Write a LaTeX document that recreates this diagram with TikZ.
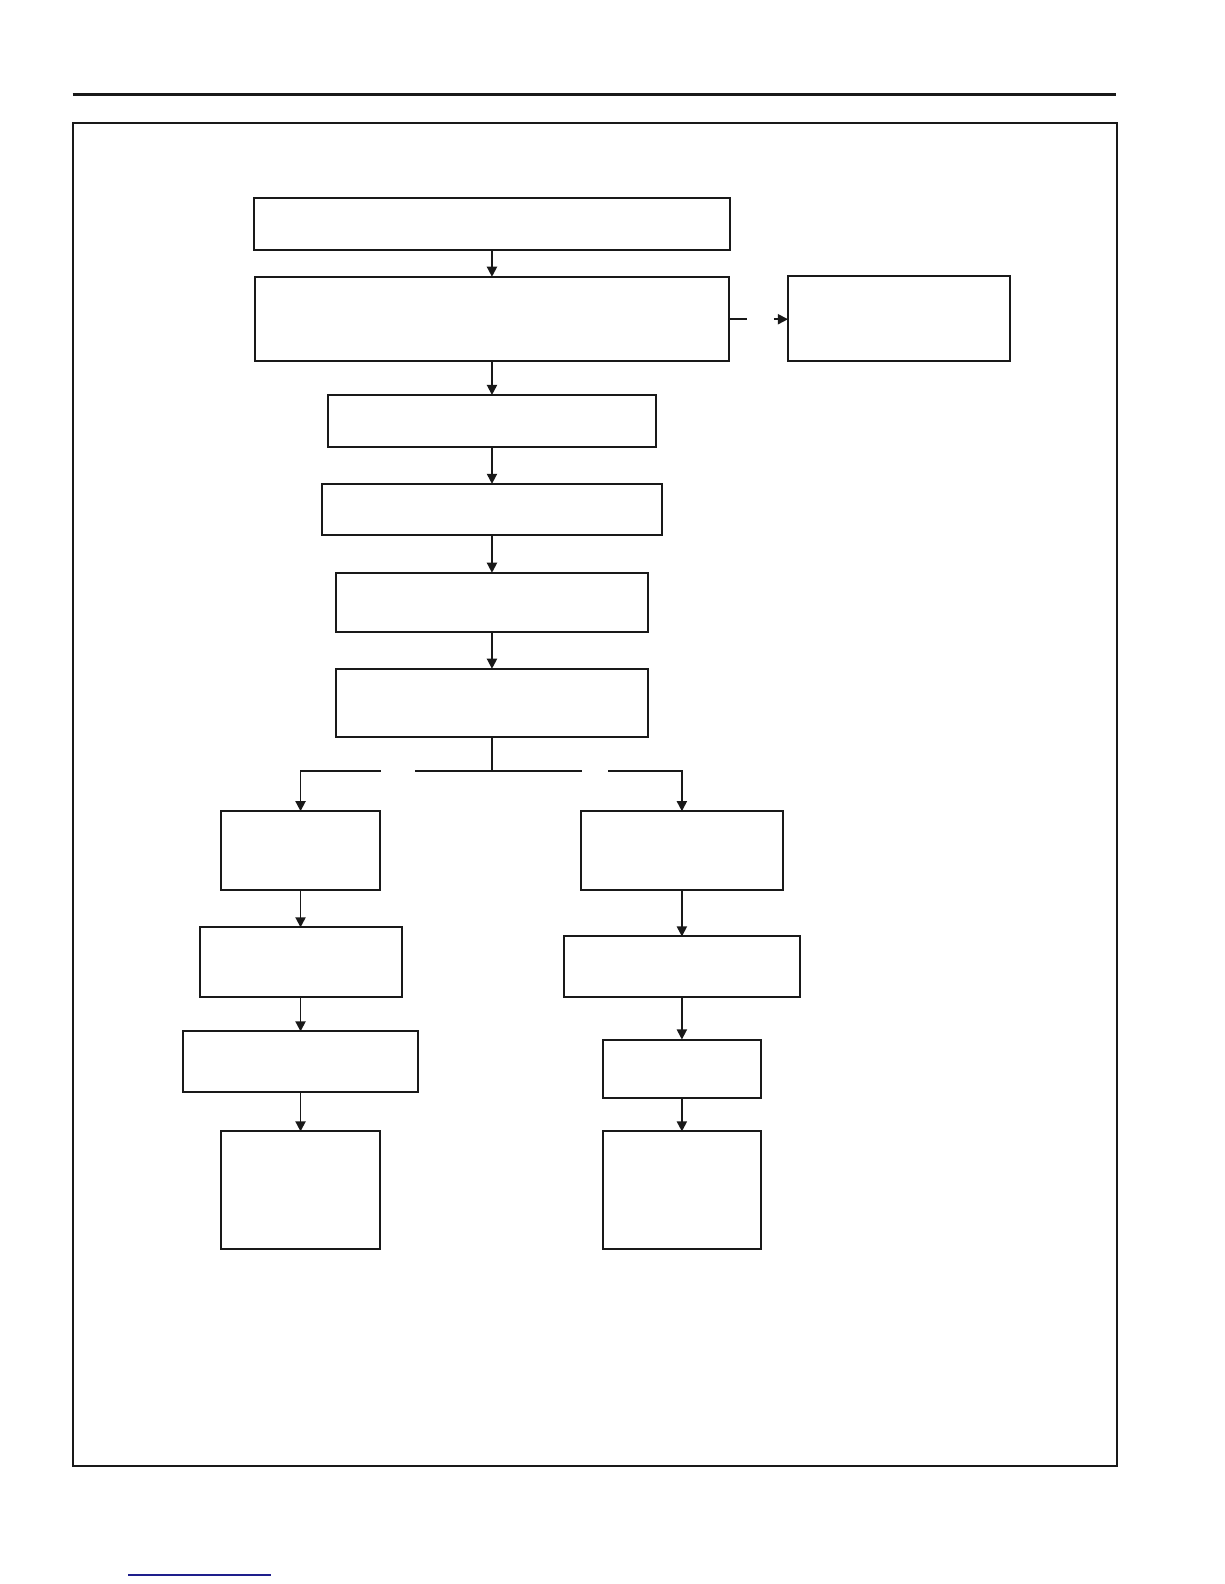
\documentclass[tikz,border=0pt]{standalone}
\usetikzlibrary{positioning, arrows.meta}
\definecolor{linkblue}{RGB}{30,30,140}
\newcommand{\pxunit}{0.5pt}

\begin{document}
\begin{tikzpicture}
    [
      x = \pxunit, y = -\pxunit,
      BOX/.style={rectangle, draw=black!90, fill=white, line width = 1pt, inner sep = 0pt, outer sep = 0pt},
      ARROW/.style={-{Triangle[width = 5pt, length = 5pt]}, line width = 0.9pt, black!90},
      LINE/.style={-, line width = 0.9pt, black!90},
    ]

    \useasboundingbox (0,0) rectangle (1212,1568);

    % page rule, frame and link line
    \draw[line width = 1.5pt, black!90] (72,94) -- (1105,94);
    \draw[line width = 1pt, black!90] (72,122) rectangle (1106,1451);
    \draw[line width = 0.7pt, linkblue] (127,1559) -- (268,1559);

    % main column
    \node[BOX, minimum width = 471*\pxunit, minimum height = 51*\pxunit] (check) at (487,221.5) {};
    \node[BOX, minimum width = 470*\pxunit, minimum height = 83*\pxunit] (inspect) [below = 27*\pxunit of check] {};
    \node[BOX, minimum width = 220*\pxunit, minimum height = 84*\pxunit] (replace) [right = 58*\pxunit of inspect] {};
    \node[BOX, minimum width = 324*\pxunit, minimum height = 51*\pxunit] (measure) [below = 34*\pxunit of inspect] {};
    \node[BOX, minimum width = 336*\pxunit, minimum height = 51*\pxunit] (connect) [below = 37*\pxunit of measure] {};
    \node[BOX, minimum width = 308*\pxunit, minimum height = 59*\pxunit] (operate) [below = 37*\pxunit of connect] {};
    \node[BOX, minimum width = 308*\pxunit, minimum height = 68*\pxunit] (result) [below = 36*\pxunit of operate] {};

    % left branch
    \node[BOX, minimum width = 157*\pxunit, minimum height = 78*\pxunit] (leftA) at (297.5,842) {};
    \node[BOX, minimum width = 200*\pxunit, minimum height = 69*\pxunit] (leftB) [below = 37*\pxunit of leftA] {};
    \node[BOX, minimum width = 232*\pxunit, minimum height = 60*\pxunit] (leftC) [below = 34*\pxunit of leftB] {};
    \node[BOX, minimum width = 157*\pxunit, minimum height = 116*\pxunit] (leftD) [below = 39*\pxunit of leftC] {};

    % right branch
    \node[BOX, minimum width = 200*\pxunit, minimum height = 78*\pxunit] (rightA) at (675,842) {};
    \node[BOX, minimum width = 234*\pxunit, minimum height = 60*\pxunit] (rightB) [below = 46*\pxunit of rightA] {};
    \node[BOX, minimum width = 157*\pxunit, minimum height = 58*\pxunit] (rightC) [below = 42*\pxunit of rightB] {};
    \node[BOX, minimum width = 157*\pxunit, minimum height = 116*\pxunit] (rightD) [below = 33*\pxunit of rightC] {};

    % free ends of the broken connectors
    \coordinate (sideA) at (739,316);
    \coordinate (sideB) at (766,316);
    \coordinate (split) at (487,763);
    \coordinate (splitLa) at (411,763);
    \coordinate (splitLb) at (377,763);
    \coordinate (splitRa) at (576,763);
    \coordinate (splitRb) at (602,763);

    \draw[ARROW] (check) to (inspect);
    \draw[LINE] (inspect.east |- sideA) to (sideA);
    \draw[ARROW] (sideB) to (replace.west |- sideB);
    \draw[ARROW] (inspect) to (measure);
    \draw[ARROW] (measure) to (connect);
    \draw[ARROW] (connect) to (operate);
    \draw[ARROW] (operate) to (result);
    \draw[LINE] (result.south) to (split);
    \draw[LINE] (split) to (splitLa);
    \draw[ARROW] (splitLb) -| (leftA.north);
    \draw[LINE] (split) to (splitRa);
    \draw[ARROW] (splitRb) -| (rightA.north);
    \draw[ARROW] (leftA) to (leftB);
    \draw[ARROW] (leftB) to (leftC);
    \draw[ARROW] (leftC) to (leftD);
    \draw[ARROW] (rightA) to (rightB);
    \draw[ARROW] (rightB) to (rightC);
    \draw[ARROW] (rightC) to (rightD);

  \end{tikzpicture}
\end{document}
